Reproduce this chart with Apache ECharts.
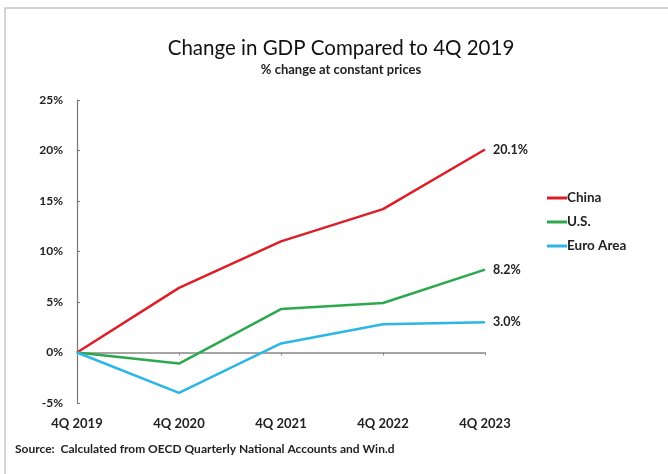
<!DOCTYPE html>
<html><head><meta charset="utf-8">
<script src="https://cdn.jsdelivr.net/npm/echarts@6/dist/echarts.min.js"></script>
<style>html,body{margin:0;padding:0;background:#fff}#c{width:668px;height:474px}</style>
</head><body><div id="c"></div>
<script>
var categories = ['4Q 2019','4Q 2020','4Q 2021','4Q 2022','4Q 2023'];
var china = [0, 6.4, 11.0, 14.2, 20.1];
var us = [0, -1.1, 4.3, 4.9, 8.2];
var euro = [0, -4.0, 0.9, 2.8, 3.0];
var seriesNames = ['China','U.S.','Euro Area'];
var endLabels = ['20.1%','8.2%','3.0%'];

var FONT = 'Lato';
var chart = echarts.init(document.getElementById('c'));
function mk(name, data, color, endLabel){
  return {
    name: name, type: 'line', data: data, symbol: 'none', xAxisIndex: 0,
    lineStyle: {color: color, width: 2.5}, itemStyle: {color: color},
    endLabel: {show: true, formatter: endLabel, color: '#222', fontFamily: FONT, fontWeight: 'bold', fontSize: 12.5, distance: 8},
    animation: false
  };
}
chart.setOption({
  backgroundColor: '#fff',
  animation: false,
  textStyle: {fontFamily: FONT},
  graphic: [
    {type: 'rect', shape: {x: 5, y: 8, width: 700, height: 480}, style: {fill: 'none', stroke: '#c8c8c8', lineWidth: 1.5}, silent: true},
    {type: 'text', left: 15, top: 443, style: {text: 'Source:  Calculated from OECD Quarterly National Accounts and Win.d', fill: '#222', font: 'bold 12px ' + FONT}}
  ],
  title: {
    text: 'Change in GDP Compared to 4Q 2019',
    subtext: '% change at constant prices',
    left: 336, textAlign: 'center', top: 33, itemGap: 4,
    textStyle: {fontFamily: FONT, fontSize: 20.5, fontWeight: 'normal', color: '#111'},
    subtextStyle: {fontFamily: FONT, fontSize: 13, fontWeight: 'bold', color: '#222'}
  },
  legend: {
    orient: 'vertical', left: 542, top: 186, itemGap: 10,
    itemWidth: 20, itemHeight: 3, icon: 'rect',
    data: seriesNames,
    textStyle: {fontFamily: FONT, fontSize: 13.5, fontWeight: 'bold', color: '#222', padding: [0,0,0,-5]}
  },
  grid: {left: 77, right: 183, top: 100, bottom: 71},
  xAxis: [
    {type: 'category', data: categories, boundaryGap: false, position: 'bottom',
     axisLine: {show: false, onZero: false}, axisTick: {show: false},
     axisLabel: {color: '#222', fontFamily: FONT, fontWeight: 'bold', fontSize: 13, margin: 14}},
    {type: 'category', data: categories, boundaryGap: false, position: 'top',
     axisLine: {show: true, onZero: true, lineStyle: {color: '#888', width: 1.5}},
     axisTick: {show: true, inside: true, length: 3, lineStyle: {color: '#888'}},
     axisLabel: {show: false}}
  ],
  yAxis: {
    type: 'value', min: -5, max: 25, interval: 5,
    axisLine: {show: true, lineStyle: {color: '#777', width: 1.2}},
    axisTick: {show: true, inside: true, length: 3, lineStyle: {color: '#777'}},
    splitLine: {show: false},
    axisLabel: {formatter: '{value}%', color: '#222', fontFamily: FONT, fontWeight: 'bold', fontSize: 12, margin: 14}
  },
  series: [
    mk(seriesNames[0], china, '#dc1f26', endLabels[0]),
    mk(seriesNames[1], us, '#2ea84e', endLabels[1]),
    mk(seriesNames[2], euro, '#2bb6e6', endLabels[2])
  ]
});
</script></body></html>
